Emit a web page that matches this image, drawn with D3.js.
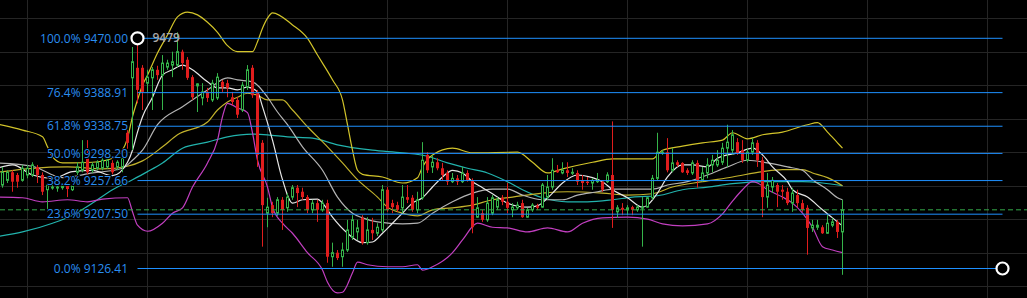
<!DOCTYPE html>
<html>
<head>
<meta charset="utf-8">
<script src="https://cdn.jsdelivr.net/npm/d3@7"></script>
<style>
  html, body { margin: 0; padding: 0; background: #000; overflow: hidden; }
</style>
</head>
<body>
<div id="content"></div>
<script>
// candles, one every 5px, oldest first
let opens = [9251,9258,9270,9266,9258,9266,9266,9278,9266,9244,
  9247,9247,9247,9250,9244,9270,9273,9291,9273,9276,
  9276,9278,9284,9278,9278,9329,9411,9426,9426,9403,
  9411,9423,9415,9427,9430,9430,9450,9438,9412,9399,
  9381,9390,9378,9381,9405,9403,9382,9378,9363,9397,
  9426,9388,9314,9209,9221,9209,9229,9217,9233,9247,
  9241,9233,9214,9224,9214,9224,9144,9150,9144,9154,
  9173,9181,9202,9165,9184,9179,9184,9244,9224,9221,
  9217,9233,9232,9214,9232,9296,9278,9285,9276,9269,
  9256,9261,9256,9269,9258,9203,9209,9199,9209,9218,
  9232,9226,9214,9217,9224,9203,9214,9220,9218,9233,
  9248,9273,9269,9273,9269,9269,9258,9256,9254,9256,
  9256,9256,9266,9211,9217,9214,9218,9214,9217,9218,
  9232,9261,9299,9300,9273,9285,9284,9273,9269,9284,
  9258,9269,9281,9281,9285,9306,9303,9315,9303,9288,
  9300,9314,9288,9233,9248,9251,9244,9241,9224,9236,
  9224,9217,9187,9188,9188,9179,9191,9196,9181];
let highs = [9278,9273,9273,9269,9281,9281,9285,9281,9270,9254,
  9251,9251,9251,9251,9251,9285,9318,9318,9285,9288,
  9293,9293,9288,9288,9296,9333,9457,9470,9430,9423,
  9427,9429,9445,9438,9450,9479,9453,9442,9415,9403,
  9403,9396,9408,9418,9408,9408,9390,9382,9405,9430,
  9430,9393,9318,9232,9226,9233,9233,9239,9251,9251,
  9247,9236,9229,9229,9229,9229,9165,9154,9165,9199,
  9206,9199,9206,9203,9202,9194,9251,9248,9229,9226,
  9251,9251,9236,9241,9315,9300,9296,9291,9284,9273,
  9269,9266,9278,9273,9261,9233,9214,9233,9236,9233,
  9236,9254,9224,9226,9229,9217,9224,9223,9254,9266,
  9291,9281,9285,9285,9276,9273,9266,9263,9261,9269,
  9258,9270,9346,9221,9224,9221,9220,9221,9233,9233,
  9266,9329,9303,9321,9306,9288,9285,9276,9288,9288,
  9278,9291,9296,9303,9314,9341,9333,9321,9318,9306,
  9321,9318,9293,9269,9263,9254,9251,9247,9247,9244,
  9229,9221,9199,9199,9191,9206,9202,9199,9229];
let lows = [9247,9254,9241,9247,9256,9261,9263,9254,9236,9211,
  9244,9241,9244,9233,9242,9266,9270,9267,9269,9273,
  9273,9275,9267,9273,9270,9305,9303,9373,9363,9390,
  9363,9408,9363,9423,9412,9427,9423,9408,9378,9360,
  9370,9375,9375,9378,9390,9382,9370,9351,9360,9393,
  9381,9278,9159,9188,9203,9205,9184,9211,9229,9218,
  9229,9209,9209,9196,9211,9135,9129,9139,9129,9151,
  9169,9169,9162,9162,9169,9175,9181,9211,9209,9211,
  9209,9224,9211,9209,9229,9269,9269,9273,9258,9251,
  9254,9251,9254,9256,9179,9202,9196,9196,9206,9214,
  9221,9209,9203,9214,9202,9202,9211,9214,9217,9229,
  9244,9269,9267,9263,9266,9251,9244,9251,9244,9254,
  9241,9254,9187,9202,9206,9206,9206,9211,9159,9217,
  9229,9258,9296,9270,9270,9278,9269,9266,9266,9247,
  9256,9261,9270,9278,9281,9278,9296,9296,9284,9285,
  9296,9278,9203,9217,9239,9218,9229,9221,9211,9218,
  9211,9147,9181,9184,9178,9178,9188,9172,9117];
let closes = [9270,9270,9256,9256,9276,9276,9281,9266,9241,9251,
  9248,9248,9250,9245,9250,9278,9285,9270,9281,9285,
  9288,9288,9270,9285,9291,9314,9435,9393,9390,9412,
  9423,9415,9433,9433,9435,9450,9433,9411,9382,9402,
  9390,9381,9403,9412,9397,9396,9375,9356,9400,9423,
  9385,9296,9221,9218,9209,9229,9214,9233,9247,9239,
  9233,9214,9224,9214,9224,9144,9150,9142,9154,9184,
  9199,9187,9165,9184,9179,9188,9244,9214,9218,9214,
  9233,9229,9214,9229,9288,9273,9285,9276,9266,9256,
  9261,9256,9269,9258,9188,9217,9199,9224,9232,9229,
  9226,9217,9218,9221,9203,9214,9221,9217,9251,9248,
  9273,9270,9273,9269,9270,9256,9254,9254,9258,9258,
  9244,9266,9214,9217,9214,9217,9214,9218,9218,9232,
  9261,9300,9300,9273,9284,9281,9270,9269,9284,9258,
  9269,9281,9288,9288,9306,9315,9326,9299,9288,9300,
  9314,9288,9233,9251,9258,9241,9241,9224,9239,9224,
  9214,9187,9191,9191,9179,9194,9196,9181,9214];

// indicator lines as [candle index, price]
let bollUpper = [[-1,9342],[4,9333],[8,9323],[9,9308],[10,9293],[12,9284],[14,9284],[18,9285],
  [22,9291],[24,9303],[25,9321],[26,9353],[27,9378],[28,9400],[29,9415],[31,9448],[33,9475],
  [35,9502],[37,9509],[39,9505],[41,9494],[43,9479],[45,9459],[47,9450],[50,9450],[51,9465],
  [52,9485],[53,9500],[54,9508],[58,9490],[61,9470],[63,9445],[66,9408],[68,9378],[69,9341],
  [70,9303],[71,9273],[72,9267],[76,9263],[80,9254],[83,9262],[84,9278],[86,9296],[90,9306],
  [94,9299],[103,9300],[106,9285],[109,9269],[112,9275],[118,9285],[122,9290],[130,9290],
  [132,9303],[136,9309],[140,9314],[144,9318],[146,9329],[149,9320],[152,9326],[156,9330],
  [161,9341],[163,9344],[165,9330],[167,9314],[168,9306]];
let bollMid = [[-1,9270],[6,9276],[13,9278],[20,9275],[25,9279],[28,9287],[32,9308],[35,9326],
  [41,9345],[43,9363],[45,9375],[47,9382],[49,9388],[51,9385],[53,9378],[56,9378],[58,9363],
  [61,9338],[65,9308],[68,9284],[71,9259],[75,9233],[77,9218],[80,9209],[83,9205],[86,9214],
  [90,9217],[94,9221],[98,9229],[102,9233],[108,9239],[113,9241],[120,9239],[125,9236],
  [130,9238],[134,9248],[140,9256],[146,9263],[152,9271],[156,9274],[160,9274],[162,9269],
  [165,9262],[168,9250]];
let bollLower = [[-1,9233],[4,9232],[8,9226],[13,9229],[17,9226],[20,9230],[25,9232],[26,9211],
  [27,9191],[29,9182],[32,9194],[34,9209],[36,9217],[38,9248],[41,9284],[43,9318],[44,9353],
  [45,9373],[47,9366],[49,9359],[50,9329],[51,9288],[53,9248],[54,9218],[56,9194],[58,9179],
  [61,9150],[64,9124],[65,9106],[67,9090],[68,9091],[70,9120],[71,9136],[73,9132],[77,9129],
  [80,9129],[83,9132],[84,9124],[86,9129],[90,9150],[92,9169],[95,9194],[98,9188],[101,9187],
  [105,9181],[109,9187],[113,9181],[116,9194],[120,9202],[125,9203],[129,9200],[132,9193],
  [136,9190],[141,9193],[144,9208],[146,9227],[148,9244],[150,9256],[151,9254],[153,9244],
  [156,9233],[158,9224],[160,9209],[162,9188],[164,9159],[166,9154],[168,9150]];
let maFast = [[-1,9276],[2,9281],[6,9266],[10,9261],[14,9271],[18,9273],[22,9265],[25,9285],
  [26,9303],[27,9330],[28,9353],[30,9382],[32,9415],[34,9423],[36,9430],[38,9423],[41,9405],[43,9396],
  [45,9396],[47,9393],[49,9397],[51,9390],[52,9368],[54,9318],[56,9259],[58,9224],[60,9229],
  [63,9230],[64,9224],[66,9203],[69,9179],[72,9165],[74,9166],[76,9179],[78,9194],[80,9209],
  [82,9224],[84,9232],[86,9248],[88,9263],[90,9273],[92,9269],[94,9256],[96,9247],[98,9238],
  [101,9224],[105,9218],[107,9220],[110,9239],[112,9254],[115,9266],[118,9262],[120,9256],
  [122,9244],[125,9232],[128,9218],[129,9221],[131,9239],[133,9263],[136,9281],[138,9281],
  [141,9278],[143,9291],[147,9299],[150,9306],[152,9296],[154,9278],[157,9256],[158,9244],
  [161,9233],[164,9214],[166,9202],[168,9190]];
let maSlow = [[-1,9284],[6,9279],[12,9262],[18,9269],[24,9276],[26,9288],[28,9303],[31,9341],
  [36,9368],[41,9393],[45,9411],[47,9408],[50,9405],[51,9400],[53,9382],[55,9360],[57,9341],
  [60,9308],[64,9273],[67,9233],[70,9209],[72,9202],[75,9196],[80,9193],[83,9194],[86,9209],
  [90,9226],[94,9239],[98,9245],[101,9245],[104,9236],[108,9229],[112,9229],[115,9236],
  [119,9241],[122,9245],[130,9245],[133,9251],[137,9256],[141,9266],[145,9278],[149,9288],
  [153,9284],[157,9278],[160,9273],[162,9259],[165,9244],[167,9232],[168,9229]];
let maLong = [[-1,9174],[4,9181],[10,9194],[14,9206],[18,9224],[22,9244],[26,9259],[29,9271],
  [32,9284],[36,9306],[41,9315],[45,9323],[50,9327],[53,9326],[57,9323],[62,9321],[67,9311],
  [74,9303],[80,9299],[85,9294],[89,9284],[93,9276],[97,9269],[101,9256],[104,9244],[108,9232],
  [113,9226],[117,9226],[122,9229],[126,9233],[131,9235],[136,9244],[141,9248],[146,9253],
  [152,9256],[160,9256],[164,9254],[168,9250]];

// fibonacci retracement
let fibHigh = 9470.00;
let fibLow = 9126.41;
let fibRatios = [1, 0.764, 0.618, 0.5, 0.382, 0.236, 0];
let fibStart = 27;   // candle index of the high anchor
let fibEnd = 200;

// grid
let gridPrices = [9100, 9150, 9200, 9250, 9300, 9350, 9400, 9450, 9500];
let gridIndex = [5, 29, 53, 77, 101, 125, 149, 173, 197];

let width = 1027;
let height = 298;
let svg = d3.select('#content').append('svg')
  .attr('width', width)
  .attr('height', height)
  .style('display', 'block')
  .style('background', '#000');

let x = d3.scaleLinear().domain([0, 168]).range([2.5, 842.5]);
let y = d3.scaleLinear().domain([fibLow, fibHigh]).range([268.5, 38.3]);

// grid lines
svg.selectAll('line.hgrid').data(gridPrices).enter().append('line')
  .attr('class', 'hgrid')
  .attr('x1', 0).attr('x2', width)
  .attr('y1', d => Math.round(y(d)) + 0.5)
  .attr('y2', d => Math.round(y(d)) + 0.5)
  .style('stroke', '#252525').style('stroke-width', 1);
svg.selectAll('line.vgrid').data(gridIndex).enter().append('line')
  .attr('class', 'vgrid')
  .attr('x1', d => x(d)).attr('x2', d => x(d))
  .attr('y1', 0).attr('y2', height)
  .style('stroke', '#252525').style('stroke-width', 1);

// indicators
let line = d3.line()
  .x(d => x(d[0]))
  .y(d => y(d[1]))
  .curve(d3.curveMonotoneX);

let indicators = [
  {data: maLong, color: '#22b3ad'},
  {data: bollMid, color: '#c2b22c'},
  {data: bollUpper, color: '#d2c42a'},
  {data: bollLower, color: '#c23fc0'},
  {data: maSlow, color: '#b4b4b4'},
  {data: maFast, color: '#e6e6e6'},
];
svg.selectAll('path.ind').data(indicators).enter().append('path')
  .attr('class', 'ind')
  .attr('d', d => line(d.data))
  .style('fill', 'none')
  .style('stroke', d => d.color)
  .style('stroke-width', 1.2);

// candles
let up = '#35b44a';
let down = '#e01d1d';
let candles = svg.selectAll('g.candle').data(d3.range(opens.length)).enter()
  .append('g').attr('class', 'candle');
candles.append('line')
  .attr('x1', i => x(i)).attr('x2', i => x(i))
  .attr('y1', i => y(highs[i])).attr('y2', i => y(lows[i]))
  .style('stroke', i => closes[i] >= opens[i] ? up : down)
  .style('stroke-width', 1);
candles.append('rect')
  .attr('x', i => closes[i] >= opens[i] ? x(i) - 1 : x(i) - 1.5)
  .attr('width', i => closes[i] >= opens[i] ? 2 : 3)
  .attr('y', i => y(Math.max(opens[i], closes[i])))
  .attr('height', i => Math.max(1, Math.abs(y(opens[i]) - y(closes[i]))))
  .style('fill', i => closes[i] >= opens[i] ? '#000' : down)
  .style('stroke', i => closes[i] >= opens[i] ? up : 'none')
  .style('stroke-width', 1);

// last price
let last = closes[closes.length - 1];
svg.append('line')
  .attr('x1', 0).attr('x2', width)
  .attr('y1', y(last)).attr('y2', y(last))
  .style('stroke', '#34a84a')
  .style('stroke-width', 1)
  .style('stroke-dasharray', '5,3');

// fib levels
let fib = fibRatios.map(r => ({r: r, price: fibLow + r * (fibHigh - fibLow)}));
svg.selectAll('line.fib').data(fib).enter().append('line')
  .attr('class', 'fib')
  .attr('x1', x(fibStart)).attr('x2', x(fibEnd))
  .attr('y1', d => y(d.price)).attr('y2', d => y(d.price))
  .style('stroke', '#1e90ff').style('stroke-width', 1);
svg.selectAll('text.fib').data(fib).enter().append('text')
  .attr('class', 'fib')
  .attr('x', 128)
  .attr('y', d => y(d.price))
  .attr('dy', '0.35em')
  .attr('text-anchor', 'end')
  .style('font-family', '"Open Sans", sans-serif')
  .style('font-size', '12px')
  .style('fill', '#2a8ef0')
  .style('stroke', '#000')
  .style('stroke-width', 2)
  .style('paint-order', 'stroke')
  .text(d => (d.r * 100).toFixed(1) + '% ' + d.price.toFixed(2));

// high marker label
svg.append('text')
  .attr('x', x(fibStart) + 15)
  .attr('y', y(fibHigh) - 1)
  .attr('dy', '0.35em')
  .style('font-family', '"Open Sans", sans-serif')
  .style('font-size', '12px')
  .style('font-weight', 600)
  .style('fill', '#a8a8a8')
  .text(d3.max(highs));

// anchor handles
svg.selectAll('circle.anchor').data([[fibStart, fibHigh], [fibEnd, fibLow]]).enter()
  .append('circle')
  .attr('class', 'anchor')
  .attr('cx', d => x(d[0]))
  .attr('cy', d => y(d[1]))
  .attr('r', 6)
  .style('fill', '#000')
  .style('stroke', '#fff')
  .style('stroke-width', 2.2);
</script>
</body>
</html>
